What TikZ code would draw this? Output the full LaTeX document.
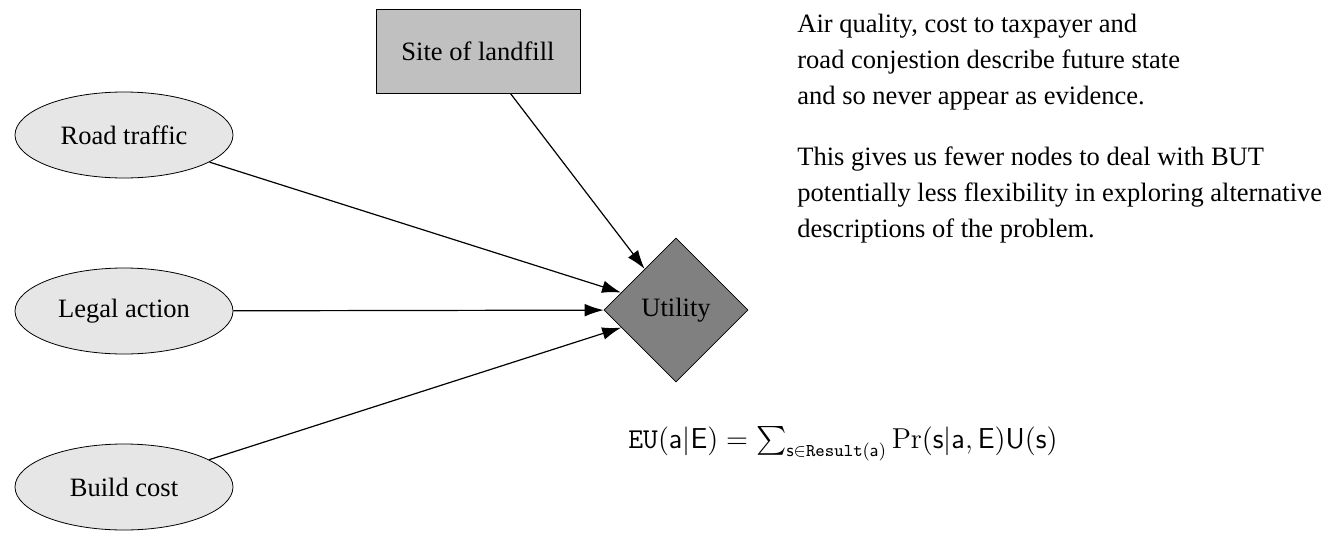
\documentclass[tikz,border=0pt]{standalone}
\usepackage[no-math]{fontspec}
\setmainfont{Liberation Serif}
\usepackage{amsmath}
\usetikzlibrary{shapes.geometric,arrows.meta}

\definecolor{chanceFill}{HTML}{E6E6E6}
\definecolor{declFill}{HTML}{C0C0C0}
\definecolor{utilFill}{HTML}{808080}

\newcommand{\mv}[1]{\mathsf{#1}}

\begin{document}
\begin{tikzpicture}
[   x=0.5pt,y=-0.5pt,
    font=\fontsize{13.25}{18}\selectfont,
    enode/.style={draw=black,fill=chanceFill,ellipse,minimum width=109pt,minimum height=43pt,inner sep=0pt},
    rnode/.style={draw=black,fill=declFill,rectangle,minimum width=102pt,minimum height=42pt,inner sep=0pt},
    dnode/.style={draw=black,fill=utilFill,diamond,minimum width=72pt,minimum height=72pt,inner sep=0pt},
    edge/.style={-{Latex[length=9.5pt,width=6.3pt]},line width=0.6pt},
]
    \useasboundingbox (0,0) rectangle (1328,536);

    \node[rnode] (site) at (478,51) {Site of landfill};
    \node[dnode] (util) at (676,310) {Utility};

    \node[enode] (road) at (124,135) {Road traffic};
    \node[enode] (legal) at (124,311) {Legal action};
    \node[enode] (build) at (124,487) {Build cost};

    % edges into the utility node
    \foreach \n in {road,legal,build,site}
    {   \draw[edge] (\n) -- (util);
    }

    \node[anchor=north west,align=left,inner sep=0pt] (note1) at (797,14)
        {Air quality, cost to taxpayer and\\road conjestion describe future state\\and so never appear as evidence.};
    \node[anchor=north west,align=left,inner sep=0pt] (note2) at (797,146)
        {This gives us fewer nodes to deal with BUT\\potentially less flexibility in exploring alternative\\descriptions of the problem.};

    \node[anchor=base west,inner sep=0pt] (eu) at (628,448)
        {$\mathtt{EU}(\mv{a}|\mv{E})=\sum_{\mv{s}\in\mathtt{Result}(\mv{a})}\Pr(\mv{s}|\mv{a},\mv{E})\mv{U}(\mv{s})$};
\end{tikzpicture}
\end{document}
